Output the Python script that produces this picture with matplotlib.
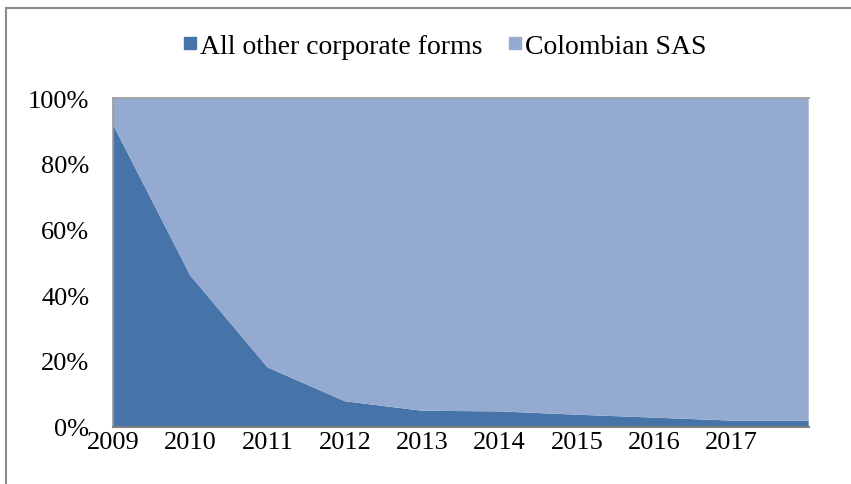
import matplotlib
matplotlib.use('Agg')
import matplotlib.pyplot as plt
from matplotlib.lines import Line2D

# data (share of new companies, %)
years = [2009, 2010, 2011, 2012, 2013, 2014, 2015, 2016, 2017, 2018]
year_labels = ['2009', '2010', '2011', '2012', '2013', '2014', '2015', '2016', '2017', '']
other_forms = [92, 46, 18, 7.7, 4.8, 4.6, 3.6, 2.7, 1.8, 1.8]
sas = [100 - v for v in other_forms]

dark = '#4674A8'
light = '#95AAD1'

plt.rcParams['font.family'] = ['Liberation Serif', 'DejaVu Serif']

fig = plt.figure(figsize=(8.51, 4.85), dpi=100)
ax = fig.add_axes([113 / 851, 1 - 427.5 / 485, (808.7 - 113) / 851, (427.5 - 99.3) / 485])

ax.stackplot(years, other_forms, sas, colors=[dark, light], linewidth=0)
ax.set_xlim(years[0], years[-1])
ax.set_ylim(0, 100)
ax.set_xticks(years)
ax.set_xticklabels(year_labels)
ax.set_yticks(range(0, 101, 20))
ax.set_yticklabels([f'{v}%' for v in range(0, 101, 20)])
ax.tick_params(length=0, labelsize=19)
ax.tick_params(axis='y', pad=17)
ax.tick_params(axis='x', pad=3)

for side in ['left', 'top']:
    ax.spines[side].set_color('#9a9a9a')
    ax.spines[side].set_linewidth(1.2)
ax.spines['bottom'].set_color('#808080')
ax.spines['bottom'].set_linewidth(1.5)
ax.spines['right'].set_visible(False)

# outer chart border: only left and top edges are inside the picture
bx, by = 6 / 851, 1 - 9 / 485
fig.add_artist(Line2D([bx, bx], [0.0, by], transform=fig.transFigure,
                      color='#8c8c8c', linewidth=1.5))
fig.add_artist(Line2D([bx, 1.0], [by, by], transform=fig.transFigure,
                      color='#8c8c8c', linewidth=1.5))

handles = [Line2D([], [], marker='s', linestyle='none', markersize=8, color=dark),
           Line2D([], [], marker='s', linestyle='none', markersize=8, color=light)]
fig.legend(handles, ['All other corporate forms', 'Colombian SAS'], loc='center',
           bbox_to_anchor=(444 / 851, 1 - 47 / 485), ncol=2, frameon=False,
           fontsize=20, handletextpad=0.05, columnspacing=0.9, handlelength=0.6)

fig.savefig('out.png', dpi=100)
